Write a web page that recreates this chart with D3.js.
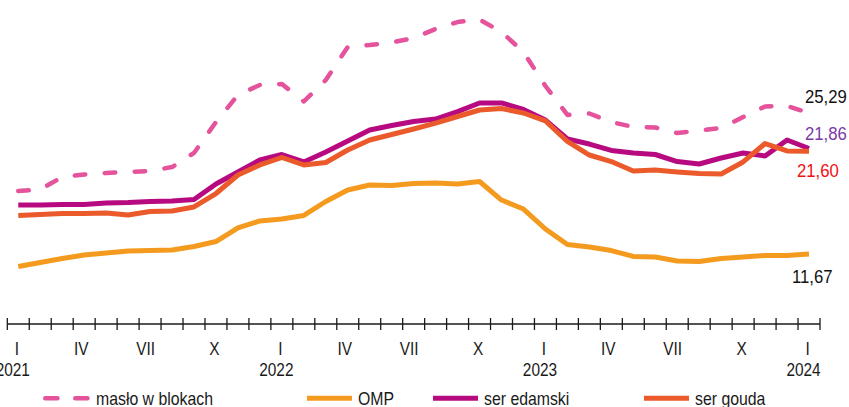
<!DOCTYPE html>
<html>
<head>
<meta charset="utf-8">
<script src="https://cdn.jsdelivr.net/npm/d3@7"></script>
<style>
  html, body { margin: 0; padding: 0; background: #fff; }
  svg { display: block; }
  text { font-family: "Liberation Sans", "Arimo", "DejaVu Sans", sans-serif; }
</style>
</head>
<body>
<svg id="chart" width="849" height="407"></svg>
<script>
// Monthly prices, Jan 2021 – Jan 2024 (zł/kg)
const months = [
  "2021-01","2021-02","2021-03","2021-04","2021-05","2021-06","2021-07","2021-08","2021-09","2021-10","2021-11","2021-12",
  "2022-01","2022-02","2022-03","2022-04","2022-05","2022-06","2022-07","2022-08","2022-09","2022-10","2022-11","2022-12",
  "2023-01","2023-02","2023-03","2023-04","2023-05","2023-06","2023-07","2023-08","2023-09","2023-10","2023-11","2023-12",
  "2024-01"
];

const maslo = [17.75,17.90,19.11,19.35,19.49,19.59,19.69,20.07,21.43,24.42,27.03,28.00,
               28.09,26.40,28.48,31.67,31.86,32.10,32.54,33.41,34.08,34.32,33.12,31.18,
               27.90,25.10,25.24,24.42,23.94,23.89,23.36,23.60,23.84,24.90,25.92,25.97,
               25.29];
const omp = [10.46,10.85,11.23,11.57,11.76,11.96,12.00,12.05,12.39,12.87,14.18,14.86,
             15.05,15.39,16.74,17.85,18.33,18.29,18.48,18.53,18.43,18.67,16.88,16.01,
             14.08,12.58,12.34,12.00,11.43,11.38,10.99,10.94,11.23,11.38,11.52,11.52,
             11.67];
const edamski = [16.40,16.40,16.45,16.45,16.59,16.64,16.74,16.79,16.93,18.43,19.59,20.75,
                 21.28,20.56,21.52,22.58,23.65,24.08,24.47,24.71,25.43,26.26,26.26,25.63,
                 24.61,22.78,22.29,21.67,21.43,21.28,20.60,20.36,20.94,21.43,21.14,22.68,
                 21.86];
const gouda = [15.39,15.48,15.58,15.58,15.63,15.43,15.77,15.82,16.21,17.51,19.30,20.27,
               20.99,20.27,20.51,21.71,22.68,23.21,23.74,24.32,24.95,25.58,25.72,25.29,
               24.52,22.54,21.23,20.60,19.69,19.78,19.59,19.44,19.40,20.56,22.34,21.62,
               21.60];

const monthTicks = {"01": "I", "04": "IV", "07": "VII", "10": "X"};
const seriesNames = ["masło w blokach", "OMP", "ser edamski", "ser gouda"];

const series = [
  {name: seriesNames[0], values: maslo,   color: "#e4539b", width: 4.5, dash: "10.5,19.5"},
  {name: seriesNames[1], values: omp,     color: "#f49a1f", width: 5,   dash: null},
  {name: seriesNames[2], values: edamski, color: "#b70a80", width: 5,   dash: null},
  {name: seriesNames[3], values: gouda,   color: "#ea5a2b", width: 5,   dash: null}
];

const svg = d3.select("#chart");

const x = d3.scaleBand().domain(months).range([7.3, 820]).padding(0);
const y = d3.scaleLinear().domain([5, 35]).range([323, 12.5]);
const cx = m => x(m) + x.bandwidth() / 2;

// Condensed text: regular face squeezed horizontally
const SQUEEZE = 0.88;
function label(sel, px, py) {
  return sel.attr("x", 0).attr("y", 0)
    .attr("transform", (d, i) => `translate(${px(d, i)},${py(d, i)}) scale(${SQUEEZE},1)`);
}

// Axis baseline with ticks at month boundaries
const axisY = 324;
const axis = svg.append("g").attr("transform", `translate(0,${axisY})`);
axis.append("line")
  .attr("x1", x.range()[0]).attr("x2", x.range()[1])
  .attr("stroke", "#1a1a1a").attr("stroke-width", 1.3);
const boundaries = months.map(m => x(m)).concat([x.range()[1]]);
axis.selectAll("line.tick").data(boundaries).join("line")
  .attr("class", "tick")
  .attr("x1", d => d).attr("x2", d => d)
  .attr("y1", -6).attr("y2", 6)
  .attr("stroke", "#1a1a1a").attr("stroke-width", 1.3);

// Month labels (Roman numerals) and year labels
const labelled = months.filter(m => monthTicks[m.slice(5)]);
label(svg.append("g").selectAll("text").data(labelled).join("text"),
      m => cx(m) - 1.5 * monthTicks[m.slice(5)].length, () => 355)
  .attr("text-anchor", "middle")
  .attr("font-size", 17.5)
  .attr("fill", "#1a1a1a")
  .text(m => monthTicks[m.slice(5)]);

label(svg.append("g").selectAll("text").data(months.filter(m => m.endsWith("-01"))).join("text"),
      m => cx(m) - 5.5, () => 376)
  .attr("text-anchor", "middle")
  .attr("font-size", 17.5)
  .attr("fill", "#1a1a1a")
  .text(m => m.slice(0, 4));

// Series lines
const line = d3.line()
  .x((d, i) => cx(months[i]))
  .y(d => y(d))
  .curve(d3.curveLinear);

const drawOrder = [1, 0, 2, 3];
svg.append("g").selectAll("path").data(drawOrder.map(i => series[i])).join("path")
  .attr("d", s => line(s.values))
  .attr("fill", "none")
  .attr("stroke", s => s.color)
  .attr("stroke-width", s => s.width)
  .attr("stroke-linejoin", "round")
  .attr("stroke-linecap", s => s.dash ? "round" : "butt")
  .attr("stroke-dasharray", s => s.dash);

// End-of-series value labels
const last = months[months.length - 1];
const fmt = v => v.toFixed(2).replace(".", ",");
const endLabels = [
  {v: maslo[maslo.length - 1],     dx: -4,  dy: -10,  color: "#111111"},
  {v: edamski[edamski.length - 1], dx: -4,  dy: -8.5, color: "#7a3aa6"},
  {v: gouda[gouda.length - 1],     dx: -12, dy: 26,   color: "#f01010"},
  {v: omp[omp.length - 1],         dx: -17, dy: 29,   color: "#111111"}
];
label(svg.append("g").selectAll("text").data(endLabels).join("text"),
      d => cx(last) + d.dx, d => y(d.v) + d.dy)
  .attr("font-size", 19)
  .attr("fill", d => d.color)
  .text(d => fmt(d.v));

// Legend
const legendY = 398.3;
const legendItems = [
  {s: series[0], x0: 43,  x1: 90},
  {s: series[1], x0: 307, x1: 352},
  {s: series[2], x0: 433, x1: 478},
  {s: series[3], x0: 644, x1: 689}
];
const lg = svg.append("g");
legendItems.forEach(it => {
  lg.append("line")
    .attr("x1", it.s.dash ? it.x0 + 2.25 : it.x0)
    .attr("x2", it.s.dash ? it.x1 - 2.25 : it.x1)
    .attr("y1", legendY).attr("y2", legendY)
    .attr("stroke", it.s.color)
    .attr("stroke-width", it.s.width)
    .attr("stroke-linecap", it.s.dash ? "round" : "butt")
    .attr("stroke-dasharray", it.s.dash ? "12.2,17.8" : null);
  label(lg.append("text").datum(it), d => d.x1 + 6, () => legendY + 6.5)
    .attr("font-size", 18)
    .attr("fill", "#1a1a1a")
    .text(it.s.name);
});
</script>
</body>
</html>
